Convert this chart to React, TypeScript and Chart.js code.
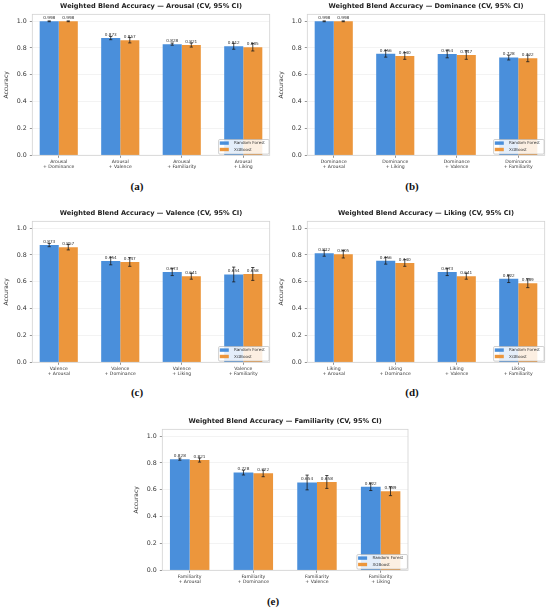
import React, { useEffect, useRef } from 'react';
import { Chart, registerables } from 'chart.js';

Chart.register(...registerables);

// ---- data ----
const seriesNames = ['Random Forest', 'XGBoost'];
const seriesColors = ['#4a8fdb', '#ec963c'];
const yTicks = [0, 0.2, 0.4, 0.6, 0.8, 1.0];

const arousalCats = [['Arousal', '+ Dominance'], ['Arousal', '+ Valence'], ['Arousal', '+ Familiarity'], ['Arousal', '+ Liking']];
const arousalRF = [0.998, 0.873, 0.828, 0.812];
const arousalRFErr = [0.003, 0.012, 0.008, 0.022];
const arousalXGB = [0.998, 0.857, 0.821, 0.805];
const arousalXGBErr = [0.003, 0.02, 0.015, 0.028];

const dominanceCats = [['Dominance', '+ Arousal'], ['Dominance', '+ Liking'], ['Dominance', '+ Valence'], ['Dominance', '+ Familiarity']];
const dominanceRF = [0.998, 0.756, 0.754, 0.728];
const dominanceRFErr = [0.003, 0.025, 0.028, 0.018];
const dominanceXGB = [0.998, 0.74, 0.747, 0.722];
const dominanceXGBErr = [0.003, 0.025, 0.032, 0.025];

const valenceCats = [['Valence', '+ Arousal'], ['Valence', '+ Dominance'], ['Valence', '+ Liking'], ['Valence', '+ Familiarity']];
const valenceRF = [0.873, 0.754, 0.673, 0.654];
const valenceRFErr = [0.012, 0.028, 0.027, 0.055];
const valenceXGB = [0.857, 0.747, 0.641, 0.658];
const valenceXGBErr = [0.02, 0.032, 0.022, 0.048];

const likingCats = [['Liking', '+ Arousal'], ['Liking', '+ Dominance'], ['Liking', '+ Valence'], ['Liking', '+ Familiarity']];
const likingRF = [0.812, 0.756, 0.673, 0.622];
const likingRFErr = [0.022, 0.025, 0.027, 0.028];
const likingXGB = [0.805, 0.74, 0.641, 0.589];
const likingXGBErr = [0.028, 0.025, 0.022, 0.033];

const familiarityCats = [['Familiarity', '+ Arousal'], ['Familiarity', '+ Dominance'], ['Familiarity', '+ Valence'], ['Familiarity', '+ Liking']];
const familiarityRF = [0.828, 0.728, 0.654, 0.622];
const familiarityRFErr = [0.008, 0.018, 0.055, 0.028];
const familiarityXGB = [0.821, 0.722, 0.658, 0.589];
const familiarityXGBErr = [0.015, 0.025, 0.048, 0.033];

const FONT = '"DejaVu Sans", sans-serif';

// error bars, value labels, frame and legend
const overlayPlugin = {
  id: 'overlay',
  afterDatasetsDraw(chart: any, _args: any, opts: any) {
    const ctx = chart.ctx;
    const yScale = chart.scales.y;
    const errs: number[][] = opts.errors;
    chart.data.datasets.forEach((ds: any, di: number) => {
      const meta = chart.getDatasetMeta(di);
      meta.data.forEach((bar: any, i: number) => {
        const v = ds.data[i].y;
        const e = errs[di][i];
        const x = bar.x;
        ctx.save();
        ctx.fillStyle = '#333';
        ctx.font = `4.2px ${FONT}`;
        ctx.textAlign = 'center';
        ctx.textBaseline = 'bottom';
        ctx.fillText(v.toFixed(3), x, yScale.getPixelForValue(v) - 1.2);
        const yt = yScale.getPixelForValue(v + e);
        const yb = yScale.getPixelForValue(v - e);
        ctx.strokeStyle = '#1a1a1a';
        ctx.lineWidth = 0.8;
        ctx.beginPath();
        ctx.moveTo(x, yt);
        ctx.lineTo(x, yb);
        ctx.moveTo(x - 1.6, yt);
        ctx.lineTo(x + 1.6, yt);
        ctx.moveTo(x - 1.6, yb);
        ctx.lineTo(x + 1.6, yb);
        ctx.stroke();
        ctx.restore();
      });
    });
  },
  afterDraw(chart: any) {
    const ctx = chart.ctx;
    const a = chart.chartArea;
    ctx.save();
    ctx.strokeStyle = '#d2d2d2';
    ctx.lineWidth = 0.8;
    ctx.strokeRect(a.left, a.top, a.right - a.left, a.bottom - a.top);

    // legend, lower right inside the axes
    const w = 50.5;
    const h = 14.6;
    const lx = a.right - w - 0.6;
    const ly = a.bottom - h - 1.2;
    ctx.fillStyle = 'rgba(255,255,255,0.85)';
    ctx.strokeStyle = '#b0b0b0';
    ctx.lineWidth = 0.6;
    ctx.beginPath();
    ctx.roundRect(lx, ly, w, h, 1.2);
    ctx.fill();
    ctx.stroke();
    ctx.font = `4.1px ${FONT}`;
    ctx.textAlign = 'left';
    ctx.textBaseline = 'middle';
    chart.data.datasets.forEach((ds: any, di: number) => {
      const cy = ly + 3.6 + di * 6.4;
      ctx.fillStyle = ds.backgroundColor;
      ctx.fillRect(lx + 1.2, cy - 1.7, 9, 3.4);
      ctx.fillStyle = '#333';
      ctx.fillText(ds.label, lx + 15.5, cy);
    });
    ctx.restore();
  },
};

interface PanelProps {
  title: string;
  cats: string[][];
  rf: number[];
  rfErr: number[];
  xgb: number[];
  xgbErr: number[];
  left: number;
  top: number;
  width: number;
}

const Panel: React.FC<PanelProps> = ({ title, cats, rf, rfErr, xgb, xgbErr, left, top, width }) => {
  const canvasRef = useRef<HTMLCanvasElement | null>(null);

  useEffect(() => {
    if (!canvasRef.current) return;
    const chart = new Chart(canvasRef.current, {
      type: 'bar',
      data: {
        datasets: [
          { label: seriesNames[0], data: rf.map((v, i) => ({ x: i, y: v })), backgroundColor: seriesColors[0], borderWidth: 0 },
          { label: seriesNames[1], data: xgb.map((v, i) => ({ x: i, y: v })), backgroundColor: seriesColors[1], borderWidth: 0 },
        ],
      },
      options: {
        animation: false,
        responsive: true,
        maintainAspectRatio: false,
        layout: { padding: { left: 0, right: 5.3, top: 0, bottom: 0 } },
        datasets: { bar: { categoryPercentage: 0.62, barPercentage: 1 } },
        scales: {
          x: {
            type: 'linear',
            offset: false,
            min: -0.43,
            max: 3.43,
            afterBuildTicks: (s: any) => { s.ticks = cats.map((_, i) => ({ value: i })); },
            afterFit: (s: any) => { s.height = 19.7; },
            border: { display: false },
            grid: { display: true, offset: false, drawOnChartArea: false, drawTicks: true, tickLength: 2.5, tickColor: '#666', tickWidth: 0.7 },
            ticks: {
              autoSkip: false,
              maxRotation: 0,
              padding: 1.2,
              color: '#333',
              font: { family: FONT, size: 4.6, lineHeight: 1.15 },
              callback: (v: any) => cats[Math.round(Number(v))],
            },
          },
          y: {
            min: 0,
            max: 1.05,
            afterBuildTicks: (s: any) => { s.ticks = yTicks.map((v) => ({ value: v })); },
            afterFit: (s: any) => { s.width = 32.3; },
            border: { display: false },
            grid: { color: 'rgba(0,0,0,0.07)', lineWidth: 0.7, tickLength: 2.5, tickColor: '#666', tickWidth: 0.7 },
            ticks: {
              padding: 3,
              color: '#333',
              font: { family: FONT, size: 6.3 },
              callback: (v: any) => Number(v).toFixed(1),
            },
            title: {
              display: true,
              text: 'Accuracy',
              color: '#333',
              font: { family: FONT, size: 6 },
              padding: { top: 2.4, bottom: 0 },
            },
          },
        },
        plugins: {
          legend: { display: false },
          tooltip: { enabled: false },
          title: {
            display: true,
            text: title,
            fullSize: false,
            color: '#222',
            font: { family: FONT, size: 6.6, weight: 'bold', lineHeight: 1.2 },
            padding: { top: 2.0, bottom: 4.4 },
          },
          overlay: { errors: [rfErr, xgbErr] },
        } as any,
      },
      plugins: [overlayPlugin],
    } as any);
    return () => chart.destroy();
  }, [title, cats, rf, rfErr, xgb, xgbErr]);

  return (
    <div style={{ position: 'absolute', left, top, width, height: 175 }}>
      <canvas ref={canvasRef} />
    </div>
  );
};

const Letter: React.FC<{ text: string; x: number; y: number }> = ({ text, x, y }) => (
  <div
    style={{
      position: 'absolute',
      left: x - 20,
      top: y - 7,
      width: 40,
      height: 14,
      lineHeight: '14px',
      textAlign: 'center',
      fontFamily: '"Liberation Serif", serif',
      fontWeight: 'bold',
      fontSize: 11,
      color: '#111',
    }}
  >
    {text}
  </div>
);

export default function App() {
  return (
    <div style={{ position: 'fixed', left: 0, top: 0, width: 550, height: 610, background: '#fff', overflow: 'hidden' }}>
      <Panel title="Weighted Blend Accuracy — Arousal (CV, 95% CI)" cats={arousalCats} rf={arousalRF} rfErr={arousalRFErr} xgb={arousalXGB} xgbErr={arousalXGBErr} left={0} top={0} width={275} />
      <Panel title="Weighted Blend Accuracy — Dominance (CV, 95% CI)" cats={dominanceCats} rf={dominanceRF} rfErr={dominanceRFErr} xgb={dominanceXGB} xgbErr={dominanceXGBErr} left={275} top={0} width={275} />
      <Panel title="Weighted Blend Accuracy — Valence (CV, 95% CI)" cats={valenceCats} rf={valenceRF} rfErr={valenceRFErr} xgb={valenceXGB} xgbErr={valenceXGBErr} left={0} top={207.4} width={275} />
      <Panel title="Weighted Blend Accuracy — Liking (CV, 95% CI)" cats={likingCats} rf={likingRF} rfErr={likingRFErr} xgb={likingXGB} xgbErr={likingXGBErr} left={275} top={207.4} width={275} />
      <Panel title="Weighted Blend Accuracy — Familiarity (CV, 95% CI)" cats={familiarityCats} rf={familiarityRF} rfErr={familiarityRFErr} xgb={familiarityXGB} xgbErr={familiarityXGBErr} left={130} top={414.7} width={283.3} />
      <Letter text="(a)" x={137} y={186} />
      <Letter text="(b)" x={412} y={186} />
      <Letter text="(c)" x={137} y={392} />
      <Letter text="(d)" x={412} y={392} />
      <Letter text="(e)" x={273} y={601} />
    </div>
  );
}
